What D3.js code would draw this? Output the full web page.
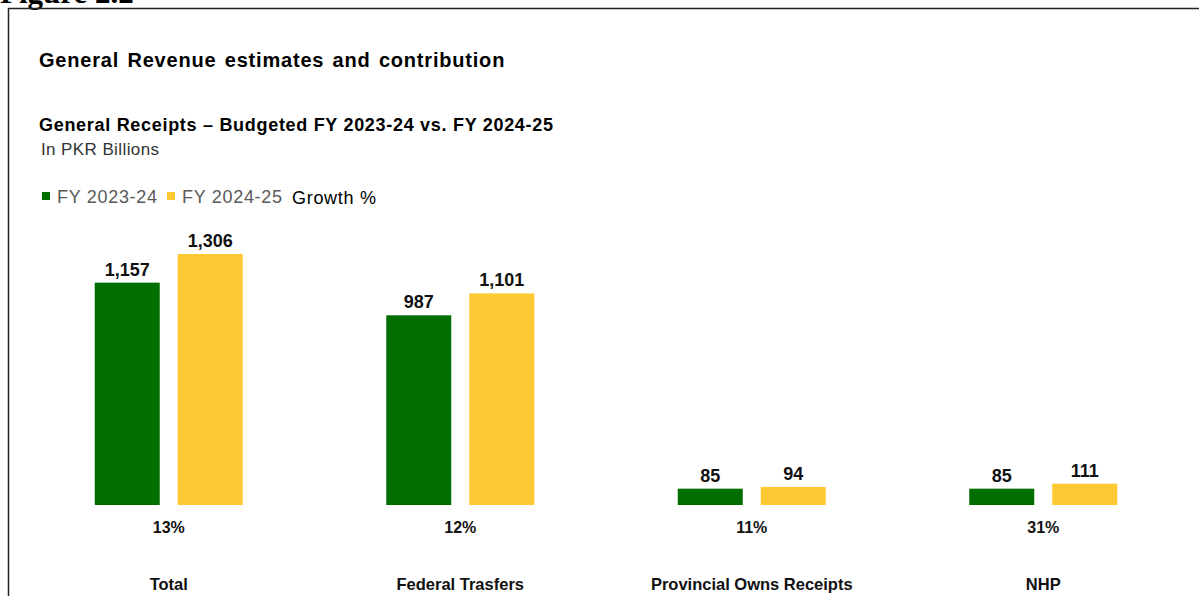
<!DOCTYPE html>
<html>
<head>
<meta charset="utf-8">
<script src="https://cdn.jsdelivr.net/npm/d3@7"></script>
<style>
  html, body { margin: 0; padding: 0; background: #fff; }
  svg { display: block; }
</style>
</head>
<body>
<svg id="chart" width="1199" height="596"></svg>
<script>
// Budget receipts, PKR billions
const categories = ["Total", "Federal Trasfers", "Provincial Owns Receipts", "NHP"];
const series = ["FY 2023-24", "FY 2024-25"];
const fy2324 = [1157, 987, 85, 85];
const fy2425 = [1306, 1101, 94, 111];
const growth = ["13%", "12%", "11%", "31%"];
const colors = ["#006f00", "#ffc933"];

const svg = d3.select("#chart");
const W = 1199, H = 596;

// page caption (runs off the top edge)
svg.append("text")
  .attr("x", 0).attr("y", 3)
  .attr("font-family", "Liberation Serif, Times New Roman, serif")
  .attr("font-weight", "bold").attr("font-size", 31)
  .attr("fill", "#000")
  .text("Figure 2.2");

// frame
svg.append("rect")
  .attr("x", 8.5).attr("y", 8.5)
  .attr("width", W + 10).attr("height", H)
  .attr("fill", "none").attr("stroke", "#222").attr("stroke-width", 1.5);

const sans = "Liberation Sans, Arial, Helvetica, sans-serif";

svg.append("text")
  .attr("x", 39).attr("y", 67)
  .attr("font-family", sans).attr("font-weight", "bold").attr("font-size", 20)
  .attr("letter-spacing", 0.8).attr("word-spacing", 2)
  .attr("fill", "#000")
  .text("General Revenue estimates and contribution");

svg.append("text")
  .attr("x", 39).attr("y", 131)
  .attr("font-family", sans).attr("font-weight", "bold").attr("font-size", 18)
  .attr("letter-spacing", 0.7)
  .attr("fill", "#000")
  .text("General Receipts \u2013 Budgeted FY 2023-24 vs. FY 2024-25");

svg.append("text")
  .attr("x", 41).attr("y", 155)
  .attr("font-family", sans).attr("font-size", 17)
  .attr("letter-spacing", 0.4)
  .attr("fill", "#333")
  .text("In PKR Billions");

// legend
const legend = [
  { label: series[0], color: colors[0], x: 42 },
  { label: series[1], color: colors[1], x: 167 }
];
legend.forEach(d => {
  svg.append("rect").attr("x", d.x).attr("y", 192).attr("width", 8).attr("height", 8).attr("fill", d.color);
  svg.append("text").attr("x", d.x + 15).attr("y", 203)
    .attr("font-family", sans).attr("font-size", 18).attr("letter-spacing", 0.7)
    .attr("fill", "#595959")
    .text(d.label);
});
svg.append("text").attr("x", 292).attr("y", 204)
  .attr("font-family", sans).attr("font-size", 18).attr("letter-spacing", 0.7)
  .attr("fill", "#000")
  .text("Growth %");

// scales
const baseY = 505;
const x0 = d3.scaleBand().domain(categories).range([23, 1189]).paddingInner(0).paddingOuter(0);
const y = d3.scaleLinear().domain([0, 1306]).range([baseY, 254]);
const barW = 65, gap = 18;

const rows = categories.map((c, i) => ({ cat: c, vals: [fy2324[i], fy2425[i]], g: growth[i] }));

const groups = svg.selectAll("g.grp").data(rows).join("g")
  .attr("class", "grp")
  .attr("transform", d => `translate(${x0(d.cat) + x0.bandwidth() / 2},0)`);

const offs = [-(gap / 2 + barW), gap / 2];

groups.selectAll("rect.bar").data(d => d.vals.map((v, k) => ({ v, k }))).join("rect")
  .attr("class", "bar")
  .attr("x", d => offs[d.k])
  .attr("y", d => y(d.v))
  .attr("width", barW)
  .attr("height", d => baseY - y(d.v))
  .attr("fill", d => colors[d.k]);

groups.selectAll("text.val").data(d => d.vals.map((v, k) => ({ v, k }))).join("text")
  .attr("class", "val")
  .attr("x", d => offs[d.k] + barW / 2)
  .attr("y", d => y(d.v) - 7)
  .attr("text-anchor", "middle")
  .attr("font-family", sans).attr("font-weight", "bold").attr("font-size", 18)
  .attr("fill", "#111")
  .text(d => d3.format(",")(d.v));

groups.append("text")
  .attr("x", 0).attr("y", 533)
  .attr("text-anchor", "middle")
  .attr("font-family", sans).attr("font-weight", "bold").attr("font-size", 16)
  .attr("fill", "#111")
  .text(d => d.g);

groups.append("text")
  .attr("x", 0).attr("y", 590)
  .attr("text-anchor", "middle")
  .attr("font-family", sans).attr("font-weight", "bold").attr("font-size", 16.5)
  .attr("fill", "#111")
  .text(d => d.cat);
</script>
</body>
</html>
